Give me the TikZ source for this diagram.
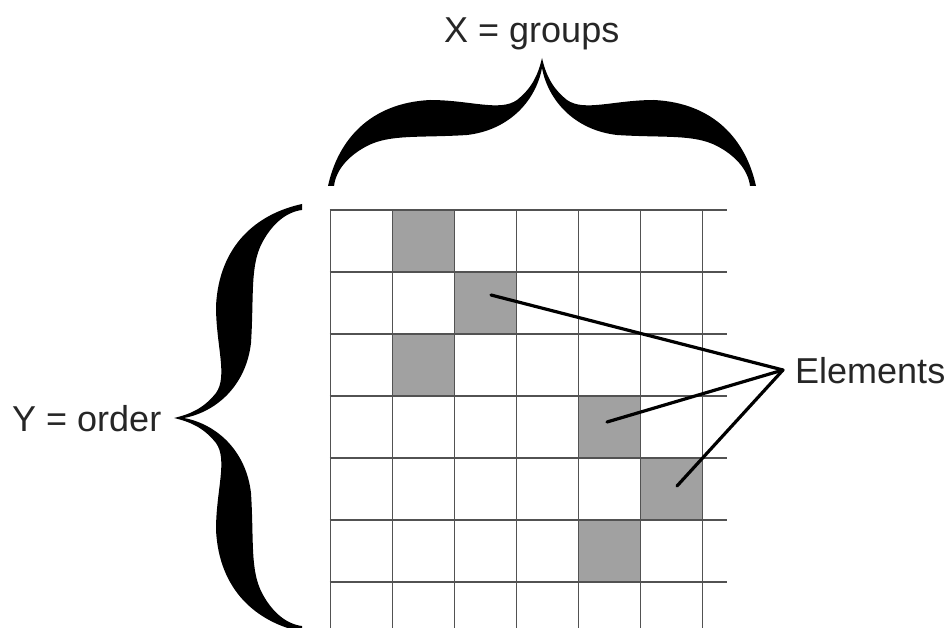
\documentclass[tikz,border=0pt]{standalone}
\usepackage{fontspec}
\setmainfont{Liberation Sans}
\begin{document}
\begin{tikzpicture}[x=1pt,y=-1pt,
  gridline/.style={draw=black!68,line width=1.9pt},
  cellfill/.style={fill=black!37},
  connector/.style={draw=black,line width=3.2pt,line cap=round},
  label/.style={inner sep=0pt,text=black!85,font=\fontsize{36}{40}\selectfont},
  bracepic/.pic={
    \fill[black]
      (-214,0) .. controls (-204,46) and (-172,83) .. (-112,86)
      .. controls (-72,86) and (-42,74) .. (-25,86)
      .. controls (-10,98) and (-4,111) .. (0,128)
      .. controls (4,111) and (10,98) .. (25,86)
      .. controls (42,74) and (72,86) .. (112,86)
      .. controls (172,83) and (204,46) .. (214,0)
      -- (208,0)
      .. controls (206,16) and (194,30) .. (175,40)
      .. controls (152,52) and (122,48) .. (75,51)
      .. controls (32,56) and (6,86) .. (0,118)
      .. controls (-6,86) and (-32,56) .. (-75,51)
      .. controls (-122,48) and (-152,52) .. (-175,40)
      .. controls (-194,30) and (-206,16) .. (-208,0)
      -- cycle;
  }]
\useasboundingbox (0,0) rectangle (948,628);
\clip (0,0) rectangle (948,628);

% gray cells
\foreach \c/\r in {1/0,2/1,1/2,4/3,5/4,4/5}{
  \fill[cellfill] ({330.5+62*\c},{210+62*\r}) rectangle ({330.5+62*(\c+1)},{210+62*(\r+1)});
}
% grid
\foreach \i in {0,...,6}{
  \draw[gridline] ({330.5+62*\i},209.1) -- ({330.5+62*\i},640);
  \draw[gridline] (329.6,{210+62*\i}) -- (727,{210+62*\i});
}

% braces
\begin{scope}[shift={(542pt,-186pt)},x={(1pt,0pt)},y={(0pt,1pt)}]
  \pic {bracepic};
\end{scope}
\begin{scope}[shift={(302pt,-418pt)},x={(0pt,-1pt)},y={(-1pt,0pt)}]
  \pic {bracepic};
\end{scope}

% labels
\node[label,anchor=base west] (xlab) at (444,43) {X = groups};
\node[label,anchor=base west] (ylab) at (12,431) {Y = order};
\node[label,anchor=base west] (elab) at (795,383) {Elements};

% connectors
\coordinate (hub) at (783,370);
\coordinate (e1) at (491,295);
\coordinate (e2) at (607,422);
\coordinate (e3) at (677,486);
\draw[connector] (e1) -- (hub);
\draw[connector] (e2) -- (hub);
\draw[connector] (e3) -- (hub);
\end{tikzpicture}
\end{document}
